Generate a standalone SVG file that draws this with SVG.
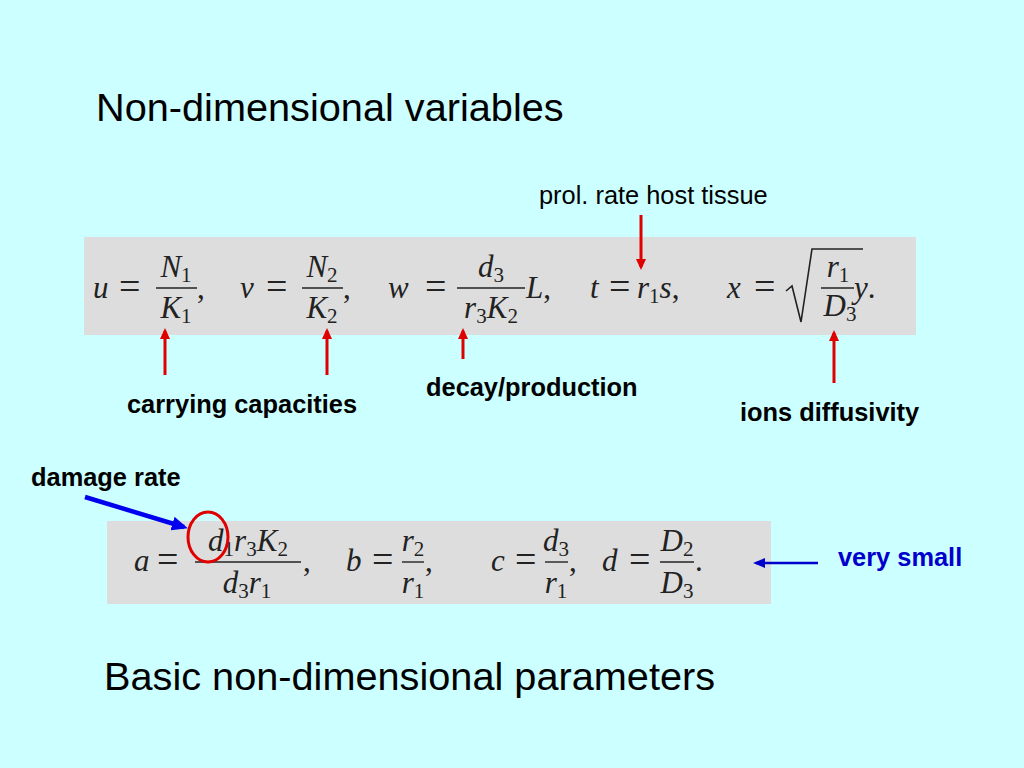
<svg xmlns="http://www.w3.org/2000/svg" width="1024" height="768" viewBox="0 0 1024 768">
<defs>
<style>
.title{font-family:"Liberation Sans",Arial,sans-serif;font-size:39.7px;fill:#000}
.lbl{font-family:"Liberation Sans",Arial,sans-serif;font-size:25.4px;font-weight:bold;fill:#000}
.reg{font-family:"Liberation Sans",Arial,sans-serif;font-size:25.4px;fill:#000}
.m{font-family:"Liberation Serif","Times New Roman",serif;font-size:31px;font-style:italic;fill:#222}
.mu{font-family:"Liberation Serif","Times New Roman",serif;font-size:31px;font-style:normal;fill:#222}
.eq{font-family:"Liberation Serif","Times New Roman",serif;font-size:38px;font-style:normal;fill:#222}
.s{font-size:21px;font-style:normal}
.c{text-anchor:middle}
.bar{stroke:#222;stroke-width:1.4}
.ra{stroke:#e00000;stroke-width:3;fill:none}
.box{fill:#dddddd}
</style>
<marker id="hr" markerUnits="userSpaceOnUse" markerWidth="11" markerHeight="10" refX="8" refY="5" orient="auto">
<path d="M0,0 L11,5 L0,10 z" fill="#e00000"/>
</marker>
<marker id="hb" markerUnits="userSpaceOnUse" markerWidth="16" markerHeight="14" refX="12" refY="7" orient="auto">
<path d="M0,0 L16,7 L0,14 z" fill="#0000ee"/>
</marker>
<marker id="hb2" markerUnits="userSpaceOnUse" markerWidth="12" markerHeight="10" refX="9" refY="5" orient="auto">
<path d="M0,0 L12,5 L0,10 z" fill="#0000cc"/>
</marker>
</defs>
<rect x="0" y="0" width="1024" height="768" fill="#ccffff"/>

<g id="title-top"><text class="title" x="96" y="121">Non-dimensional variables</text></g>
<g id="title-bottom"><text class="title" x="104" y="690">Basic non-dimensional parameters</text></g>

<g id="eq-variables">
<rect class="box" x="84" y="237" width="832" height="98"/>
<text class="m" x="93" y="298">u</text>
<text class="eq" x="119" y="299">=</text>
<line class="bar" x1="156" y1="288" x2="197" y2="288"/>
<text class="m c" x="176" y="277">N<tspan class="s" dy="5">1</tspan></text>
<text class="m c" x="176" y="318">K<tspan class="s" dy="5">1</tspan></text>
<text class="mu" x="197" y="298">,</text>

<text class="m" x="240" y="298">v</text>
<text class="eq" x="266" y="299">=</text>
<line class="bar" x1="302" y1="288" x2="343" y2="288"/>
<text class="m c" x="322" y="277">N<tspan class="s" dy="5">2</tspan></text>
<text class="m c" x="322" y="318">K<tspan class="s" dy="5">2</tspan></text>
<text class="mu" x="343" y="298">,</text>

<text class="m" x="388" y="298">w</text>
<text class="eq" x="425" y="299">=</text>
<line class="bar" x1="457" y1="288" x2="525" y2="288"/>
<text class="m c" x="491" y="277">d<tspan class="s" dy="5">3</tspan></text>
<text class="m c" x="491" y="318">r<tspan class="s" dy="5">3</tspan><tspan dy="-5">K</tspan><tspan class="s" dy="5">2</tspan></text>
<text class="m" x="526" y="298">L<tspan font-style="normal">,</tspan></text>

<text class="m" x="590" y="298">t</text>
<text class="eq" x="609" y="299">=</text>
<text class="m" x="637" y="298">r<tspan class="s" dy="5">1</tspan><tspan dy="-5">s</tspan><tspan font-style="normal">,</tspan></text>

<text class="m" x="727" y="298">x</text>
<text class="eq" x="754" y="299">=</text>
<path d="M786,291 L792,286 L801,322 L812,249 L863,249" fill="none" stroke="#222" stroke-width="1.6"/>
<line class="bar" x1="821" y1="288" x2="854" y2="288"/>
<text class="m c" x="838" y="277">r<tspan class="s" dy="5">1</tspan></text>
<text class="m c" x="840" y="316">D<tspan class="s" dy="5">3</tspan></text>
<text class="m" x="854" y="298">y<tspan font-style="normal">.</tspan></text>
</g>

<g id="eq-parameters">
<rect class="box" x="107" y="521" width="664" height="83"/>
<text class="m" x="134" y="571">a</text>
<text class="eq" x="157" y="572">=</text>
<line class="bar" x1="195" y1="562" x2="301" y2="562"/>
<text class="m c" x="248" y="551">d<tspan class="s" dy="5">1</tspan><tspan dy="-5">r</tspan><tspan class="s" dy="5">3</tspan><tspan dy="-5">K</tspan><tspan class="s" dy="5">2</tspan></text>
<text class="m c" x="247" y="593">d<tspan class="s" dy="5">3</tspan><tspan dy="-5">r</tspan><tspan class="s" dy="5">1</tspan></text>
<text class="mu" x="303" y="571">,</text>

<text class="m" x="346" y="571">b</text>
<text class="eq" x="372" y="572">=</text>
<line class="bar" x1="402" y1="562" x2="424" y2="562"/>
<text class="m c" x="413" y="551">r<tspan class="s" dy="5">2</tspan></text>
<text class="m c" x="413" y="593">r<tspan class="s" dy="5">1</tspan></text>
<text class="mu" x="425" y="571">,</text>

<text class="m" x="491" y="571">c</text>
<text class="eq" x="515" y="572">=</text>
<line class="bar" x1="545" y1="562" x2="568" y2="562"/>
<text class="m c" x="556" y="551">d<tspan class="s" dy="5">3</tspan></text>
<text class="m c" x="556" y="593">r<tspan class="s" dy="5">1</tspan></text>
<text class="mu" x="569" y="571">,</text>

<text class="m" x="602" y="571">d</text>
<text class="eq" x="629" y="572">=</text>
<line class="bar" x1="660" y1="562" x2="694" y2="562"/>
<text class="m c" x="677" y="551">D<tspan class="s" dy="5">2</tspan></text>
<text class="m c" x="677" y="593">D<tspan class="s" dy="5">3</tspan></text>
<text class="mu" x="695" y="571">.</text>
</g>

<g id="label-prol"><text class="reg" x="539" y="204">prol. rate host tissue</text></g>
<g id="label-carrying"><text class="lbl" x="127" y="413">carrying capacities</text></g>
<g id="label-decay"><text class="lbl" x="426" y="396">decay/production</text></g>
<g id="label-ions"><text class="lbl" x="740" y="421">ions diffusivity</text></g>
<g id="label-damage"><text class="lbl" x="31" y="486">damage rate</text></g>
<g id="label-small"><text class="lbl" x="838" y="566" style="fill:#0000cc">very small</text></g>

<g id="connectors">
<line class="ra" x1="165" y1="375" x2="165" y2="331" marker-end="url(#hr)"/>
<line class="ra" x1="327" y1="375" x2="327" y2="331" marker-end="url(#hr)"/>
<line class="ra" x1="463" y1="359" x2="463" y2="331" marker-end="url(#hr)"/>
<line class="ra" x1="641" y1="215" x2="641" y2="267" marker-end="url(#hr)"/>
<line class="ra" x1="834" y1="383" x2="834" y2="333" marker-end="url(#hr)"/>
<line x1="85" y1="497" x2="184" y2="527" stroke="#0000ee" stroke-width="4.5" marker-end="url(#hb)"/>
<line x1="818" y1="563" x2="756" y2="563" stroke="#0000cc" stroke-width="2.5" marker-end="url(#hb2)"/>
<ellipse cx="208" cy="537" rx="20" ry="25" fill="none" stroke="#e00000" stroke-width="3"/>
</g>
</svg>
